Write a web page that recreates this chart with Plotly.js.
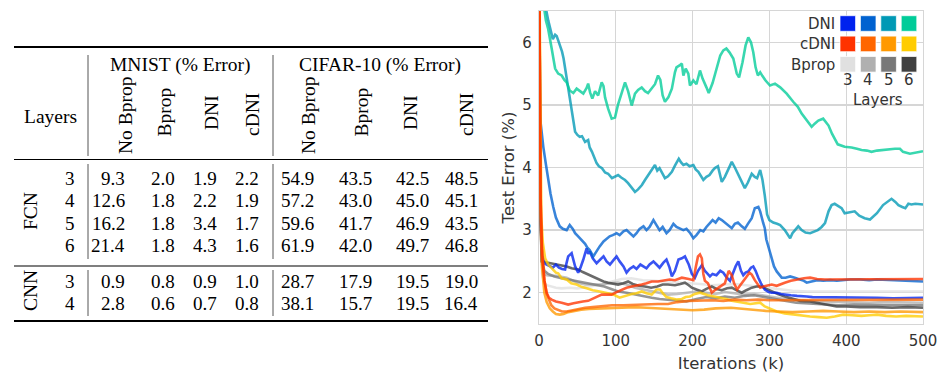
<!DOCTYPE html>
<html><head><meta charset="utf-8">
<script src="https://cdn.plot.ly/plotly-3.0.1.min.js"></script>
<style>html,body{margin:0;padding:0;background:#fff;}#chart{width:943px;height:374px;}</style>
</head><body><div id="chart"></div>
<script>
// ---------------- Table data ----------------
const methods = ["No Bprop", "Bprop", "DNI", "cDNI"];
const datasetHeaders = ["MNIST (% Error)", "CIFAR-10 (% Error)"];
const fcnLayers = [3, 4, 5, 6];
const cnnLayers = [3, 4];
const mnistFCN = [[9.3, 2.0, 1.9, 2.2], [12.6, 1.8, 2.2, 1.9], [16.2, 1.8, 3.4, 1.7], [21.4, 1.8, 4.3, 1.6]];
const cifarFCN = [[54.9, 43.5, 42.5, 48.5], [57.2, 43.0, 45.0, 45.1], [59.6, 41.7, 46.9, 43.5], [61.9, 42.0, 49.7, 46.8]];
const mnistCNN = [[0.9, 0.8, 0.9, 1.0], [2.8, 0.6, 0.7, 0.8]];
const cifarCNN = [[28.7, 17.9, 19.5, 19.0], [38.1, 15.7, 19.5, 16.4]];

// ---------------- Chart data (iterations k, test error %) ----------------
const dni3 = [[0,8],[2,3.2],[4,2.6],[7,2.47],[10,2.45],[14,2.42],[18,2.4],[22,2.45],[26,2.4],[30,2.38],[34,2.37],[36,2.48],[38,2.58],[42.5,2.63],[45,2.5],[47,2.42],[51,2.32],[54,2.4],[57.7,2.53],[62,2.71],[64,2.62],[66,2.66],[70,2.55],[75,2.47],[79,2.52],[84,2.58],[88,2.5],[92.4,2.45],[97,2.52],[101,2.58],[105,2.5],[110,2.42],[114,2.32],[118,2.38],[123,2.42],[127,2.38],[132,2.45],[136,2.42],[140,2.39],[144,2.45],[149,2.5],[153,2.45],[157,2.4],[162,2.48],[166,2.53],[170,2.4],[173,2.26],[177,2.35],[181.6,2.53],[186,2.55],[190,2.58],[195,2.45],[199,2.3],[203,2.24],[207,2.35],[212,2.44],[216,2.35],[222.6,2.26],[226,2.3],[231,2.28],[236,2.35],[240,2.32],[244,2.25],[248.7,2.19],[252,2.3],[256,2.42],[259.5,2.5],[263,2.35],[266,2.28],[269,2.32],[272.5,2.34],[276,2.4],[279,2.42],[282,2.35],[285.6,2.24],[289,2.15],[294,2.05],[299,2.01],[303,2.0],[309.5,2.0],[315,1.98],[320,1.97],[328,1.96],[336,1.95],[342,1.94],[348.6,1.94],[356,1.93],[365,1.93],[379,1.92],[392,1.92],[405,1.92],[420,1.92],[440,1.92],[461,1.91],[480,1.92],[500,1.92]];
const dni4 = [[0,4.95],[3,4.55],[5.6,4.33],[9,4.05],[12,3.8],[15,3.58],[18.6,3.37],[22,3.2],[27,3.06],[31,3.02],[36,3.0],[40,3.08],[44,3.02],[47,2.95],[51,2.9],[55.6,2.84],[60,2.78],[63,2.72],[66,2.68],[70.7,2.58],[74,2.65],[79,2.74],[84,2.82],[88,2.86],[92,2.9],[96,2.92],[101,2.95],[105,2.92],[110,2.98],[114,3.0],[118,2.95],[123,2.9],[127,2.95],[131,3.02],[136,3.06],[140,3.0],[144,3.05],[149,3.16],[153,3.08],[157,3.0],[161,3.05],[166,2.95],[170,3.0],[175,3.1],[179,3.05],[184,3.02],[188,3.0],[192,3.02],[197,2.95],[201,2.87],[205,2.92],[210,3.0],[214,2.98],[218,3.05],[222.6,3.11],[226,3.16],[230,3.12],[234,3.19],[238,3.16],[242,3.12],[246,3.08],[251,3.03],[255,3.1],[259,3.12],[264,3.06],[268,3.02],[272,3.1],[277,3.19],[281,3.35],[285.6,3.37],[288,3.3],[290,3.19],[292,3.11],[294,3.03],[296,2.85],[298.6,2.74],[301,2.62],[303,2.53],[306,2.42],[309.5,2.34],[313,2.28],[316,2.24],[321,2.24],[327,2.26],[333,2.24],[340,2.21],[345,2.19],[348.6,2.16],[355,2.18],[362,2.2],[370,2.19],[379,2.2],[388,2.19],[396,2.2],[405,2.21],[418,2.21],[430,2.2],[440,2.21],[455,2.2],[470,2.19],[483,2.19],[492,2.18],[500,2.18]];
const dni5 = [[0,12],[8,6.6],[12,6.35],[14,6.24],[16,6.12],[18,6.05],[21,6.12],[23,6.1],[25,6.03],[27,5.97],[30,5.85],[32,5.74],[35,5.5],[38,5.31],[40,5.1],[42.5,4.89],[45,4.7],[47,4.57],[50,4.52],[53,4.49],[56,4.5],[60,4.41],[64,4.44],[66,4.32],[69,4.25],[72,4.15],[75,4.07],[78,4.02],[82,3.99],[86,3.92],[90,3.9],[95,3.83],[99,3.86],[103,3.88],[107,3.84],[112,3.8],[116,3.75],[120,3.68],[125,3.61],[129,3.65],[134,3.72],[138,3.8],[142,3.88],[146,3.95],[151,4.04],[154,3.95],[157,3.99],[161,3.9],[164,3.83],[168,3.86],[173,3.93],[177,4.03],[182,4.14],[185,4.08],[188,4.04],[192,4.06],[196,4.02],[201,4.04],[204,3.97],[207.5,3.93],[211,3.86],[214,3.8],[218,3.85],[222,3.88],[226,3.95],[229,3.99],[233,4.02],[236,3.88],[238,3.77],[242,3.85],[246,3.95],[251,4.09],[255,4.0],[259,3.9],[264,3.76],[268,3.67],[272,3.76],[277,3.9],[281,3.85],[284,3.83],[288,3.96],[291,3.8],[294,3.55],[297,3.25],[300,3.16],[305,3.12],[310,3.1],[314,3.08],[320,3.0],[324,2.92],[327,2.87],[330,2.95],[333,3.0],[337.6,3.06],[342,3.0],[347,2.96],[353,2.95],[358,2.98],[363,3.0],[368,3.05],[372.4,3.11],[377,3.3],[381,3.4],[385,3.42],[390,3.38],[394,3.35],[398,3.27],[405,3.29],[411,3.3],[417,3.23],[424,3.19],[431,3.17],[436,3.22],[440,3.27],[448,3.4],[453,3.45],[459,3.5],[464,3.45],[468,3.4],[473,3.37],[477,3.35],[481,3.42],[485,3.41],[490,3.42],[495,3.41],[500,3.41]];
const dni6 = [[0,12],[6,6.6],[9,6.35],[12,6.21],[16.5,5.9],[21,5.58],[25,5.5],[29.5,5.47],[33,5.4],[36,5.36],[40,5.23],[44.7,5.19],[49,5.26],[53,5.22],[57.7,5.18],[62,5.27],[64,5.34],[66.5,5.2],[69.4,5.1],[73,5.22],[77,5.15],[81.6,5.36],[84,5.3],[86,5.12],[90,4.94],[94.6,4.78],[99,4.8],[103,5.01],[107.7,5.2],[112,5.36],[116,5.22],[120.7,4.99],[125,5.18],[129,5.24],[133.7,5.28],[138,5.22],[142,5.19],[146,5.26],[151,5.33],[155,5.47],[158,5.4],[161,5.15],[164,5.05],[168.4,5.12],[173,5.26],[177,5.52],[179,5.6],[183,5.63],[186,5.66],[188,5.47],[191,5.58],[194.4,5.5],[196.6,5.31],[201,5.39],[205,5.33],[209.6,5.55],[213,5.42],[218,5.28],[221,5.19],[226,5.35],[231,5.55],[236,5.79],[240,5.87],[244,5.9],[248,5.84],[253,5.74],[257.5,5.5],[260.5,5.44],[265,5.68],[269,5.95],[272.5,6.08],[276,6.0],[279,5.84],[282,5.6],[285,5.47],[288,5.52],[291,5.46],[295,5.39],[300.8,5.31],[307.3,5.34],[314,5.28],[322.5,5.18],[331,5.05],[337,4.97],[342,4.86],[348.6,4.75],[355,4.65],[359,4.7],[363.7,4.75],[370,4.78],[377,4.67],[381.5,4.54],[385,4.46],[389,4.37],[398,4.33],[407,4.32],[414,4.3],[420,4.28],[427,4.27],[433,4.25],[440,4.27],[446,4.28],[455,4.29],[463.5,4.3],[470,4.3],[474,4.25],[483,4.22],[489.6,4.24],[495,4.25],[500,4.26]];
const cdni3 = [[0,8],[2,3.5],[4,2.6],[7,2.2],[10,2.0],[13,1.92],[16.5,1.89],[22,1.86],[29.5,1.84],[38,1.81],[45,1.83],[51,1.85],[57,1.86],[64,1.87],[72,1.92],[81.6,1.97],[88,1.97],[94.6,1.97],[101,2.01],[107.7,2.05],[114,2.08],[120.7,2.1],[127,2.11],[133.7,2.13],[140,2.15],[146.7,2.18],[155,2.18],[163,2.2],[170,2.21],[177,2.2],[186,2.24],[195,2.22],[201,2.2],[204,2.4],[207,2.58],[209.6,2.61],[212,2.55],[214,2.3],[216,2.19],[220,2.15],[225,2.0],[230,2.05],[236,2.1],[242,2.15],[247,2.35],[251,2.28],[254,2.15],[258,2.05],[262,2.12],[266,2.18],[270,2.25],[274,2.32],[277,2.29],[281,2.2],[285,2.12],[288,2.08],[292,2.1],[296,2.11],[303,2.13],[309.5,2.11],[315,2.13],[320,2.16],[328,2.19],[336,2.21],[345,2.23],[353,2.24],[362,2.22],[372,2.21],[385,2.21],[396,2.21],[410,2.22],[425,2.21],[440,2.22],[455,2.21],[470,2.22],[485,2.22],[500,2.22]];
const cdni4 = [[0,8],[2,3.6],[4,2.7],[7,2.2],[10,1.98],[13,1.88],[16,1.8],[20,1.75],[25,1.72],[30,1.7],[36,1.7],[43,1.72],[50,1.74],[60,1.76],[70,1.77],[81.6,1.78],[95,1.8],[110,1.8],[125,1.81],[140,1.82],[155,1.82],[168,1.82],[180,1.85],[195,1.87],[210,1.88],[225,1.88],[240,1.87],[255,1.89],[270,1.88],[285,1.89],[300,1.88],[320,1.88],[340,1.89],[360,1.88],[380,1.89],[400,1.89],[420,1.88],[440,1.89],[460,1.89],[480,1.88],[500,1.89]];
const cdni5 = [[0,8],[2,3.2],[4,2.4],[7,2.0],[10,1.85],[14,1.75],[18,1.7],[22,1.66],[27,1.65],[32,1.66],[38,1.69],[45,1.71],[55,1.73],[65,1.74],[80,1.75],[95,1.76],[110,1.76],[125,1.77],[140,1.76],[155,1.75],[170,1.74],[185,1.73],[200,1.72],[215,1.73],[230,1.75],[250,1.76],[265,1.74],[280,1.73],[295,1.71],[310,1.7],[330,1.69],[350,1.7],[370,1.71],[390,1.7],[410,1.69],[430,1.7],[450,1.69],[470,1.7],[490,1.69],[500,1.69]];
const cdni6 = [[0,8],[1.5,4.5],[3,3.2],[5,2.8],[8,2.55],[12,2.45],[16.5,2.39],[22,2.32],[25,2.31],[29.5,2.23],[36,2.21],[42,2.15],[49,2.13],[56,2.09],[62,2.07],[70,2.04],[79,2.02],[88,1.99],[97,1.97],[105,1.92],[112,1.95],[120.7,1.98],[127,1.99],[133.7,2.02],[140,1.99],[146.7,1.97],[153,2.05],[157.6,2.05],[162,1.98],[166,1.93],[172,1.91],[179,1.89],[186,1.9],[191,1.93],[196.6,1.94],[203,1.98],[209.6,2.0],[214,1.98],[220,1.96],[228,1.94],[236,1.92],[244,1.9],[251,1.87],[258,1.86],[266,1.84],[275,1.82],[283,1.83],[288,1.84],[294,1.78],[300,1.75],[309.5,1.7],[320,1.67],[331,1.65],[342,1.63],[353,1.62],[364,1.61],[374.6,1.6],[385,1.62],[396,1.65],[408,1.64],[420,1.63],[430,1.64],[440,1.65],[452,1.63],[465,1.62],[478,1.63],[490,1.62],[500,1.62]];
const bprop3 = [[0,8],[2,3.0],[4,2.3],[7,2.15],[10,2.12],[15,2.1],[22,2.08],[29.5,2.07],[40,2.08],[50,2.07],[60,2.09],[70,2.11],[81.6,2.13],[95,2.18],[107.7,2.22],[120,2.23],[135,2.2],[150,2.19],[165,2.18],[180,2.17],[195,2.15],[210,2.14],[225,2.12],[240,2.13],[255,2.14],[270,2.12],[285,2.1],[300,2.07],[315,2.05],[330,2.03],[350,2.02],[375,2.02],[400,2.03],[425,2.02],[450,2.02],[475,2.02],[500,2.02]];
const bprop4 = [[0,8],[2,3.2],[4,2.45],[7,2.3],[10,2.28],[15,2.27],[22,2.27],[29.5,2.26],[36,2.24],[43,2.2],[50,2.16],[60,2.13],[70,2.13],[81.6,2.13],[92,2.15],[103,2.16],[114,2.13],[125,2.08],[136,2.05],[146.7,2.02],[157,2.0],[168,1.97],[180,1.98],[192,2.0],[205,2.02],[218,2.0],[230,1.98],[242,2.01],[255,1.99],[268,1.97],[280,1.98],[292,1.96],[305,1.93],[320,1.9],[335,1.88],[350,1.87],[370,1.86],[390,1.85],[410,1.85],[430,1.84],[450,1.85],[475,1.84],[500,1.84]];
const bprop5 = [[0,8],[2,3.3],[4,2.5],[7,2.35],[12,2.3],[20,2.26],[29.5,2.23],[38,2.21],[48,2.18],[60,2.15],[72,2.13],[85,2.1],[94,2.06],[103,2.02],[114,2.0],[125,1.97],[136,1.95],[146.7,1.92],[157,1.9],[168,1.89],[180,1.87],[192,1.86],[205,1.9],[218,1.93],[230,1.91],[242,1.94],[255,1.92],[268,1.95],[280,1.96],[292,1.93],[305,1.9],[320,1.87],[335,1.84],[350,1.83],[370,1.81],[390,1.8],[410,1.81],[430,1.8],[450,1.8],[475,1.8],[500,1.8]];
const bprop6 = [[0,8],[1.5,3.5],[3.5,2.5],[8,2.49],[12,2.48],[16.5,2.47],[23,2.46],[29.5,2.44],[36,2.42],[42.5,2.39],[51,2.37],[57,2.33],[64,2.29],[70,2.25],[77,2.21],[84,2.18],[90,2.16],[97,2.14],[103,2.13],[110,2.15],[116,2.18],[122,2.14],[130,2.11],[138,2.1],[146,2.08],[154,2.1],[161,2.13],[168,2.13],[177,2.12],[184,2.14],[190,2.16],[195,2.12],[199,2.08],[205,2.05],[212,2.02],[218,2.06],[225,2.1],[231,2.06],[238,2.04],[245,2.07],[251,2.08],[257,2.04],[264,2.0],[270,2.04],[277,2.08],[283,2.1],[290,2.1],[296,2.06],[303,2.02],[311,1.98],[320,1.94],[330,1.9],[340,1.87],[353,1.86],[365,1.83],[377,1.8],[387.5,1.78],[400,1.78],[418,1.77],[440,1.77],[460,1.76],[480,1.77],[500,1.76]];

const legendRows = ["DNI", "cDNI", "Bprop"];
const legendCols = ["3", "4", "5", "6"];
const dniColors = ["#0022ee", "#0062d0", "#0099b5", "#00cc99"];
const cdniColors = ["#ff3300", "#ff6600", "#ff9900", "#ffcc00"];
const bpropColors = ["#e0e0e0", "#b0b0b0", "#787878", "#404040"];
const xTicks = [0, 100, 200, 300, 400, 500];
const yTicks = [2, 3, 4, 5, 6];

// ---------------- Layout geometry ----------------
const FW = 943, FH = 374;
const M = {l: 539, r: 20, t: 11, b: 50};
const PW = FW - M.l - M.r, PH = FH - M.t - M.b;
const PX = px => (px - M.l) / PW;
const PY = py => (FH - M.b - py) / PH;

const traces = [];
function addLine(pairs, color, name) {
  traces.push({
    type: 'scatter', mode: 'lines', name: name,
    x: pairs.map(p => p[0]), y: pairs.map(p => p[1]),
    line: {color: color, width: 2.6, shape: 'linear'},
    opacity: 0.78, hoverinfo: 'skip', showlegend: false
  });
}
[bprop3, bprop4, bprop5, bprop6].forEach((s, i) => addLine(s, bpropColors[i], 'Bprop ' + legendCols[i]));
[dni3, dni4, dni5, dni6].forEach((s, i) => addLine(s, dniColors[i], 'DNI ' + legendCols[i]));
[cdni6, cdni5, cdni4, cdni3].forEach((s, k) => { const i = 3 - k; addLine(s, cdniColors[i], 'cDNI ' + legendCols[i]); });

const annotations = [];
const shapes = [];
const serif = 'Liberation Serif, Times New Roman, serif';
const sans = 'DejaVu Sans, sans-serif';
function txt(text, px, py, o) {
  o = o || {};
  annotations.push({
    text: text, xref: 'paper', yref: 'paper', x: PX(px), y: PY(py),
    xanchor: o.xa || 'center', yanchor: o.ya || 'middle', showarrow: false,
    textangle: o.angle || 0, borderpad: o.pad === undefined ? 1 : o.pad,
    font: {family: o.family || serif, size: o.size || 19.5, color: o.color || '#000'}
  });
}
function hline(x0, x1, py, w) {
  shapes.push({type: 'line', xref: 'paper', yref: 'paper', x0: PX(x0), x1: PX(x1), y0: PY(py), y1: PY(py), line: {color: '#000', width: w}});
}
function vline(px, y0, y1, w) {
  shapes.push({type: 'line', xref: 'paper', yref: 'paper', x0: PX(px), x1: PX(px), y0: PY(y0), y1: PY(y1), line: {color: '#555', width: w}});
}

// ----- table -----
const tL = 14, tR = 488;
hline(tL, tR, 47, 2);
hline(tL, tR, 159.5, 1.2);
hline(tL, tR, 266, 1.2);
hline(tL, tR, 321, 2);
[88, 273].forEach(x => { vline(x, 55, 156, 1); vline(x, 164, 259, 1); vline(x, 270, 316, 1); });
txt("Layers", 50.5, 116);
txt(datasetHeaders[0], 180, 65);
txt(datasetHeaders[1], 380, 65);
const headX = [[125, 164, 211, 252], [308, 361, 410, 466]];
const headY = [116, 112.5, 113, 115];
headX.forEach(row => row.forEach((x, j) => txt(methods[j], x, headY[j], {angle: -90})));
const colRight = [[127, 177, 219, 261], [316, 374, 431, 480]];
const numSize = 19;
const fcnY0 = 178.5, cnnY0 = 281, rowPitch = 22.4;
fcnLayers.forEach((L, i) => {
  const y = fcnY0 + i * rowPitch;
  txt(String(L), 76.5, y, {xa: 'right', size: numSize});
  mnistFCN[i].forEach((v, j) => txt(v.toFixed(1), colRight[0][j], y, {xa: 'right', size: numSize}));
  cifarFCN[i].forEach((v, j) => txt(v.toFixed(1), colRight[1][j], y, {xa: 'right', size: numSize}));
});
cnnLayers.forEach((L, i) => {
  const y = cnnY0 + i * rowPitch;
  txt(String(L), 76.5, y, {xa: 'right', size: numSize});
  mnistCNN[i].forEach((v, j) => txt(v.toFixed(1), colRight[0][j], y, {xa: 'right', size: numSize}));
  cifarCNN[i].forEach((v, j) => txt(v.toFixed(1), colRight[1][j], y, {xa: 'right', size: numSize}));
});
txt("FCN", 30, 211, {angle: -90});
txt("CNN", 30, 291, {angle: -90});

// ----- custom legend -----
const lgX0 = 840, lgY0 = 15.7, lgPitch = 20.4, lgSize = 15.6;
[dniColors, cdniColors, bpropColors].forEach((cols, r) => {
  cols.forEach((c, k) => {
    const x0 = lgX0 + k * lgPitch, y0 = lgY0 + r * lgPitch;
    shapes.push({type: 'rect', xref: 'paper', yref: 'paper', layer: 'above',
      x0: PX(x0), x1: PX(x0 + lgSize), y0: PY(y0), y1: PY(y0 + lgSize),
      fillcolor: c, line: {width: 0.8, color: 'rgba(255,255,255,0.9)'}});
  });
  txt(legendRows[r], 837, lgY0 + r * lgPitch + lgSize / 2 + 0.5, {xa: 'right', family: sans, size: 15, color: '#333'});
});
legendCols.forEach((l, k) => txt(l, lgX0 + k * lgPitch + lgSize / 2, 89.5, {ya: 'bottom', pad: 0, family: sans, size: 15, color: '#333'}));
txt("Layers", 878, 89.5, {ya: 'top', pad: 0, family: sans, size: 15, color: '#333'});

const axisCommon = {
  showgrid: true, gridcolor: '#d6d6d6', gridwidth: 1.3,
  showline: true, linecolor: '#d6d6d6', linewidth: 1.3, mirror: true,
  zeroline: false, ticks: 'outside', ticklen: 3, tickcolor: 'rgba(0,0,0,0)',
  tickfont: {family: sans, size: 15, color: '#333'}
};
const layout = {
  width: FW, height: FH, margin: M,
  paper_bgcolor: '#fff', plot_bgcolor: '#fff', showlegend: false,
  xaxis: Object.assign({}, axisCommon, {range: [0, 500], tickvals: xTicks,
    title: {text: 'Iterations (k)', font: {family: sans, size: 16.5, color: '#333'}, standoff: 8}}),
  yaxis: Object.assign({}, axisCommon, {range: [1.5, 6.5], tickvals: yTicks,
    title: {text: 'Test Error (%)', font: {family: sans, size: 16.5, color: '#333'}, standoff: 3}}),
  annotations: annotations, shapes: shapes
};
Plotly.newPlot('chart', traces, layout, {staticPlot: true, displayModeBar: false});
</script></body></html>
